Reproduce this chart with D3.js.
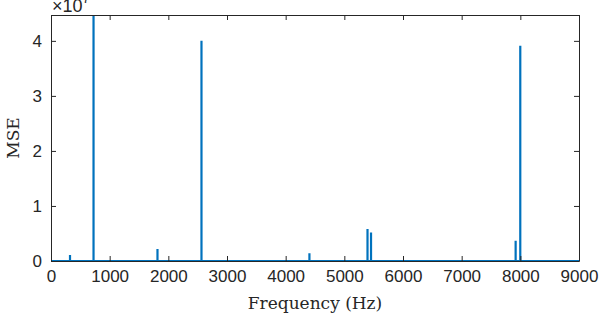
<!DOCTYPE html>
<html>
<head>
<meta charset="utf-8">
<script src="https://cdn.jsdelivr.net/npm/d3@7"></script>
<style>
  body { margin: 0; background: #fff; }
  svg { display: block; }
</style>
</head>
<body>
<div id="chart"></div>
<script>
// spike frequencies (Hz) and MSE values (x 1e7)
var freqs = [324, 725, 1815, 2565, 4405, 5395, 5455, 7920, 7999];
var mse   = [0.11, 4.8, 0.22, 4.0, 0.14, 0.58, 0.52, 0.37, 3.91];
var xTicks = [0, 1000, 2000, 3000, 4000, 5000, 6000, 7000, 8000, 9000];
var yTicks = [0, 1, 2, 3, 4];

var width = 599, height = 320;
var margin = {left: 51, right: 20, top: 15, bottom: 58};

var svg = d3.select("#chart").append("svg")
    .attr("width", width)
    .attr("height", height);

var x = d3.scaleLinear().domain([0, 9000]).range([margin.left, width - margin.right]);
var y = d3.scaleLinear().domain([0, 4.47]).range([height - margin.bottom - 1, margin.top]);

var axisColor = "#262626";
var fontSans = "'Liberation Sans', Arial, sans-serif";
var fontSerif = "'DejaVu Serif', 'Liberation Serif', serif";

svg.append("clipPath").attr("id", "clip")
  .append("rect")
    .attr("x", margin.left).attr("y", margin.top)
    .attr("width", x(9000) - margin.left)
    .attr("height", y(0) - margin.top + 1);

// build spike line from data
var pts = [[0, 0]];
freqs.forEach(function(f, i) {
  pts.push([f, 0], [f, mse[i]], [f, 0]);
});
pts.push([9000, 0]);

var line = d3.line()
    .x(function(d) { return x(d[0]); })
    .y(function(d) { return y(d[1]); });

svg.append("path")
    .datum(pts)
    .attr("clip-path", "url(#clip)")
    .attr("d", line)
    .attr("fill", "none")
    .attr("stroke", "#0072BD")
    .attr("stroke-width", 2.2)
    .attr("stroke-linejoin", "miter");

// axes (MATLAB box style, ticks inside)
var fmt = d3.format("d");
var xAxis = d3.axisBottom(x).tickValues(xTicks).tickFormat(fmt).tickSizeInner(-5).tickSizeOuter(0).tickPadding(9);
var yAxis = d3.axisLeft(y).tickValues(yTicks).tickFormat(fmt).tickSizeInner(-5).tickSizeOuter(0).tickPadding(9);

var gx = svg.append("g").attr("transform", "translate(0," + y(0) + ")").call(xAxis);
var gy = svg.append("g").attr("transform", "translate(" + margin.left + ",0)").call(yAxis);
var gxt = svg.append("g").attr("transform", "translate(0," + margin.top + ")")
    .call(d3.axisTop(x).tickValues(xTicks).tickSizeInner(-5).tickSizeOuter(0).tickFormat(""));
var gyr = svg.append("g").attr("transform", "translate(" + x(9000) + ",0)")
    .call(d3.axisRight(y).tickValues(yTicks).tickSizeInner(-5).tickSizeOuter(0).tickFormat(""));

[gx, gy, gxt, gyr].forEach(function(g) {
  g.attr("font-family", fontSans).attr("font-size", 17);
  g.select(".domain").attr("stroke", axisColor);
  g.selectAll(".tick line").attr("stroke", axisColor);
  g.selectAll(".tick text").attr("fill", axisColor);
});

// exponent label (top clipped, as in the original figure)
svg.append("text")
    .attr("x", margin.left + 1)
    .attr("y", 12)
    .attr("fill", axisColor)
    .attr("font-family", fontSans)
    .attr("font-size", 18)
    .text("\u00d710")
  .append("tspan")
    .attr("dy", -9)
    .attr("font-size", 13)
    .text("7");

// axis titles
svg.append("text")
    .attr("x", (x(0) + x(9000)) / 2)
    .attr("y", 309)
    .attr("text-anchor", "middle")
    .attr("fill", axisColor)
    .attr("font-family", fontSerif)
    .attr("font-size", 17)
    .text("Frequency (Hz)");

svg.append("text")
    .attr("transform", "translate(19," + ((y(0) + margin.top) / 2) + ") rotate(-90)")
    .attr("text-anchor", "middle")
    .attr("fill", axisColor)
    .attr("font-family", fontSerif)
    .attr("font-size", 17)
    .text("MSE");
</script>
</body>
</html>
